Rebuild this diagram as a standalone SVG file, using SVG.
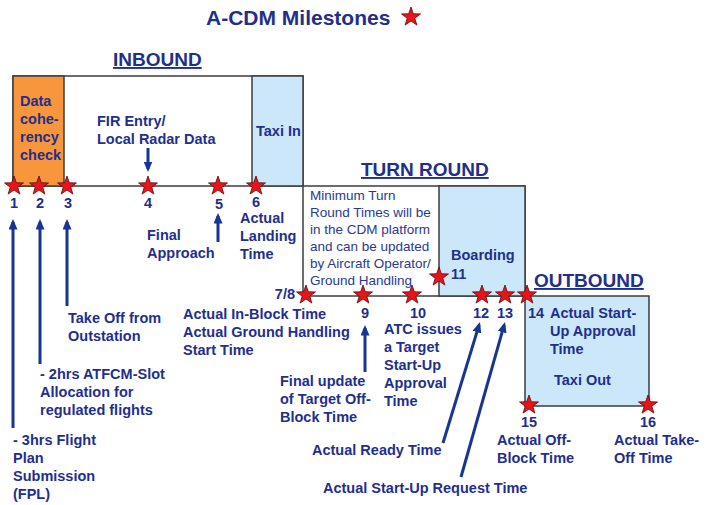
<svg xmlns="http://www.w3.org/2000/svg" width="707" height="505" viewBox="0 0 707 505">
<style>
.t{font-family:"Liberation Sans",Arial,sans-serif;font-weight:bold;font-size:14.5px;fill:#1f2f8c}
.n{font-family:"Liberation Sans",Arial,sans-serif;font-weight:bold;font-size:14.5px;fill:#1f2f8c;text-anchor:middle}
.h{font-family:"Liberation Sans",Arial,sans-serif;font-weight:bold;font-size:19px;fill:#1f2f8c;text-decoration:underline}
.r{font-family:"Liberation Sans",Arial,sans-serif;font-size:13.5px;fill:#2b3a8e}
.box{stroke:#3c3c3c;stroke-width:1.5}
.ar{stroke:#183593;stroke-width:3;fill:none;marker-end:url(#ah)}
</style>
<defs>
<path id="star" d="M0,-10 L2.35,-3.24 L9.51,-3.09 L3.8,1.24 L5.88,8.09 L0,4 L-5.88,8.09 L-3.8,1.24 L-9.51,-3.09 L-2.35,-3.24 Z" fill="#e8141c" stroke="#5a0a0a" stroke-width="0.8"/>
<marker id="ah" markerWidth="3.5" markerHeight="3" refX="2.5" refY="1.5" orient="auto" markerUnits="strokeWidth">
<path d="M0,0 L3.5,1.5 L0,3 Z" fill="#183593"/>
</marker>
</defs>
<rect width="707" height="505" fill="#fff"/>
<g id="title">
<text x="206" y="25" class="t" style="font-size:21px">A-CDM Milestones</text>
<use href="#star" x="411" y="17"/>
</g>
<g id="inbound">
<rect class="box" x="13" y="76" width="290" height="110" fill="#fff"/>
<rect class="box" x="13" y="76" width="51" height="110" fill="#f7963c"/>
<rect class="box" x="252" y="76" width="51" height="110" fill="#cce7fa"/>
<text x="113" y="66" class="h">INBOUND</text>
<text class="t" x="20" y="106">Data</text>
<text class="t" x="20" y="124">cohe-</text>
<text class="t" x="20" y="142">rency</text>
<text class="t" x="20" y="160">check</text>
<text class="t" x="97" y="126">FIR Entry/</text>
<text class="t" x="97" y="144">Local Radar Data</text>
<text class="t" x="256" y="136">Taxi In</text>
</g>
<g id="turnround">
<rect class="box" x="303" y="186" width="222" height="110" fill="#fff"/>
<rect class="box" x="439" y="186" width="86" height="110" fill="#cce7fa"/>
<text x="361" y="176" class="h">TURN ROUND</text>
<text class="r" x="310" y="200">Minimum Turn</text>
<text class="r" x="310" y="217">Round Times will be</text>
<text class="r" x="310" y="234">in the CDM platform</text>
<text class="r" x="310" y="251">and can be updated</text>
<text class="r" x="310" y="268">by Aircraft Operator/</text>
<text class="r" x="310" y="285">Ground Handling</text>
<text class="t" x="451" y="260">Boarding</text>
<text class="t" x="451" y="279">11</text>
</g>
<g id="outbound">
<rect class="box" x="525" y="296" width="124" height="110" fill="#cce7fa"/>
<text x="534" y="287" class="h">OUTBOUND</text>
<text class="t" x="528" y="318">14</text>
<text class="t" x="550" y="318">Actual Start-</text>
<text class="t" x="550" y="336">Up Approval</text>
<text class="t" x="550" y="354">Time</text>
<text class="t" x="554" y="385">Taxi Out</text>
</g>
<g id="connectors">
<line class="ar" x1="13" y1="428" x2="13" y2="222"/>
<line class="ar" x1="40" y1="364" x2="40" y2="222"/>
<line class="ar" x1="67" y1="306" x2="67" y2="222"/>
<line class="ar" x1="148" y1="148" x2="148" y2="169"/>
<line class="ar" x1="218" y1="242" x2="218" y2="216"/>
<line class="ar" x1="365" y1="372" x2="365" y2="328"/>
<line class="ar" x1="443" y1="443" x2="479.1" y2="324.9"/>
<line class="ar" x1="461" y1="477" x2="504.2" y2="324.9"/>
</g>
<g id="milestones">
<use href="#star" x="14" y="186"/>
<use href="#star" x="39" y="186"/>
<use href="#star" x="67" y="186"/>
<use href="#star" x="148" y="186"/>
<use href="#star" x="218" y="186"/>
<use href="#star" x="256" y="186"/>
<use href="#star" x="306" y="295"/>
<use href="#star" x="363" y="295"/>
<use href="#star" x="412" y="295"/>
<use href="#star" x="439" y="277"/>
<use href="#star" x="482" y="295"/>
<use href="#star" x="505" y="295"/>
<use href="#star" x="527" y="295"/>
<use href="#star" x="529" y="405"/>
<use href="#star" x="648" y="405"/>
</g>
<g id="labels">
<text class="n" x="14" y="208">1</text>
<text class="n" x="40" y="208">2</text>
<text class="n" x="68" y="208">3</text>
<text class="n" x="148" y="208">4</text>
<text class="n" x="219" y="209">5</text>
<text class="n" x="256" y="207">6</text>
<text class="t" x="13" y="445">- 3hrs Flight</text>
<text class="t" x="13" y="463">Plan</text>
<text class="t" x="13" y="481">Submission</text>
<text class="t" x="13" y="499">(FPL)</text>
<text class="t" x="40" y="379">- 2hrs ATFCM-Slot</text>
<text class="t" x="40" y="397">Allocation for</text>
<text class="t" x="40" y="415">regulated flights</text>
<text class="t" x="68" y="323">Take Off from</text>
<text class="t" x="68" y="341">Outstation</text>
<text class="t" x="147" y="240">Final</text>
<text class="t" x="147" y="258">Approach</text>
<text class="t" x="240" y="223">Actual</text>
<text class="t" x="240" y="241">Landing</text>
<text class="t" x="240" y="259">Time</text>
<text class="t" x="295" y="299" text-anchor="end">7/8</text>
<text class="t" x="183" y="319">Actual In-Block Time</text>
<text class="t" x="183" y="337">Actual Ground Handling</text>
<text class="t" x="183" y="355">Start Time</text>
<text class="n" x="365" y="318">9</text>
<text class="t" x="280" y="386">Final update</text>
<text class="t" x="280" y="404">of Target Off-</text>
<text class="t" x="280" y="422">Block Time</text>
<text class="n" x="418" y="318">10</text>
<text class="t" x="384" y="334">ATC issues</text>
<text class="t" x="384" y="352">a Target</text>
<text class="t" x="384" y="370">Start-Up</text>
<text class="t" x="384" y="388">Approval</text>
<text class="t" x="384" y="406">Time</text>
<text class="n" x="481" y="318">12</text>
<text class="n" x="505" y="318">13</text>
<text class="t" x="312" y="455">Actual Ready Time</text>
<text class="t" x="323" y="493">Actual Start-Up Request Time</text>
<text class="n" x="529" y="427">15</text>
<text class="t" x="497" y="445">Actual Off-</text>
<text class="t" x="497" y="463">Block Time</text>
<text class="n" x="648" y="427">16</text>
<text class="t" x="614" y="445">Actual Take-</text>
<text class="t" x="614" y="463">Off Time</text>
</g>
</svg>
